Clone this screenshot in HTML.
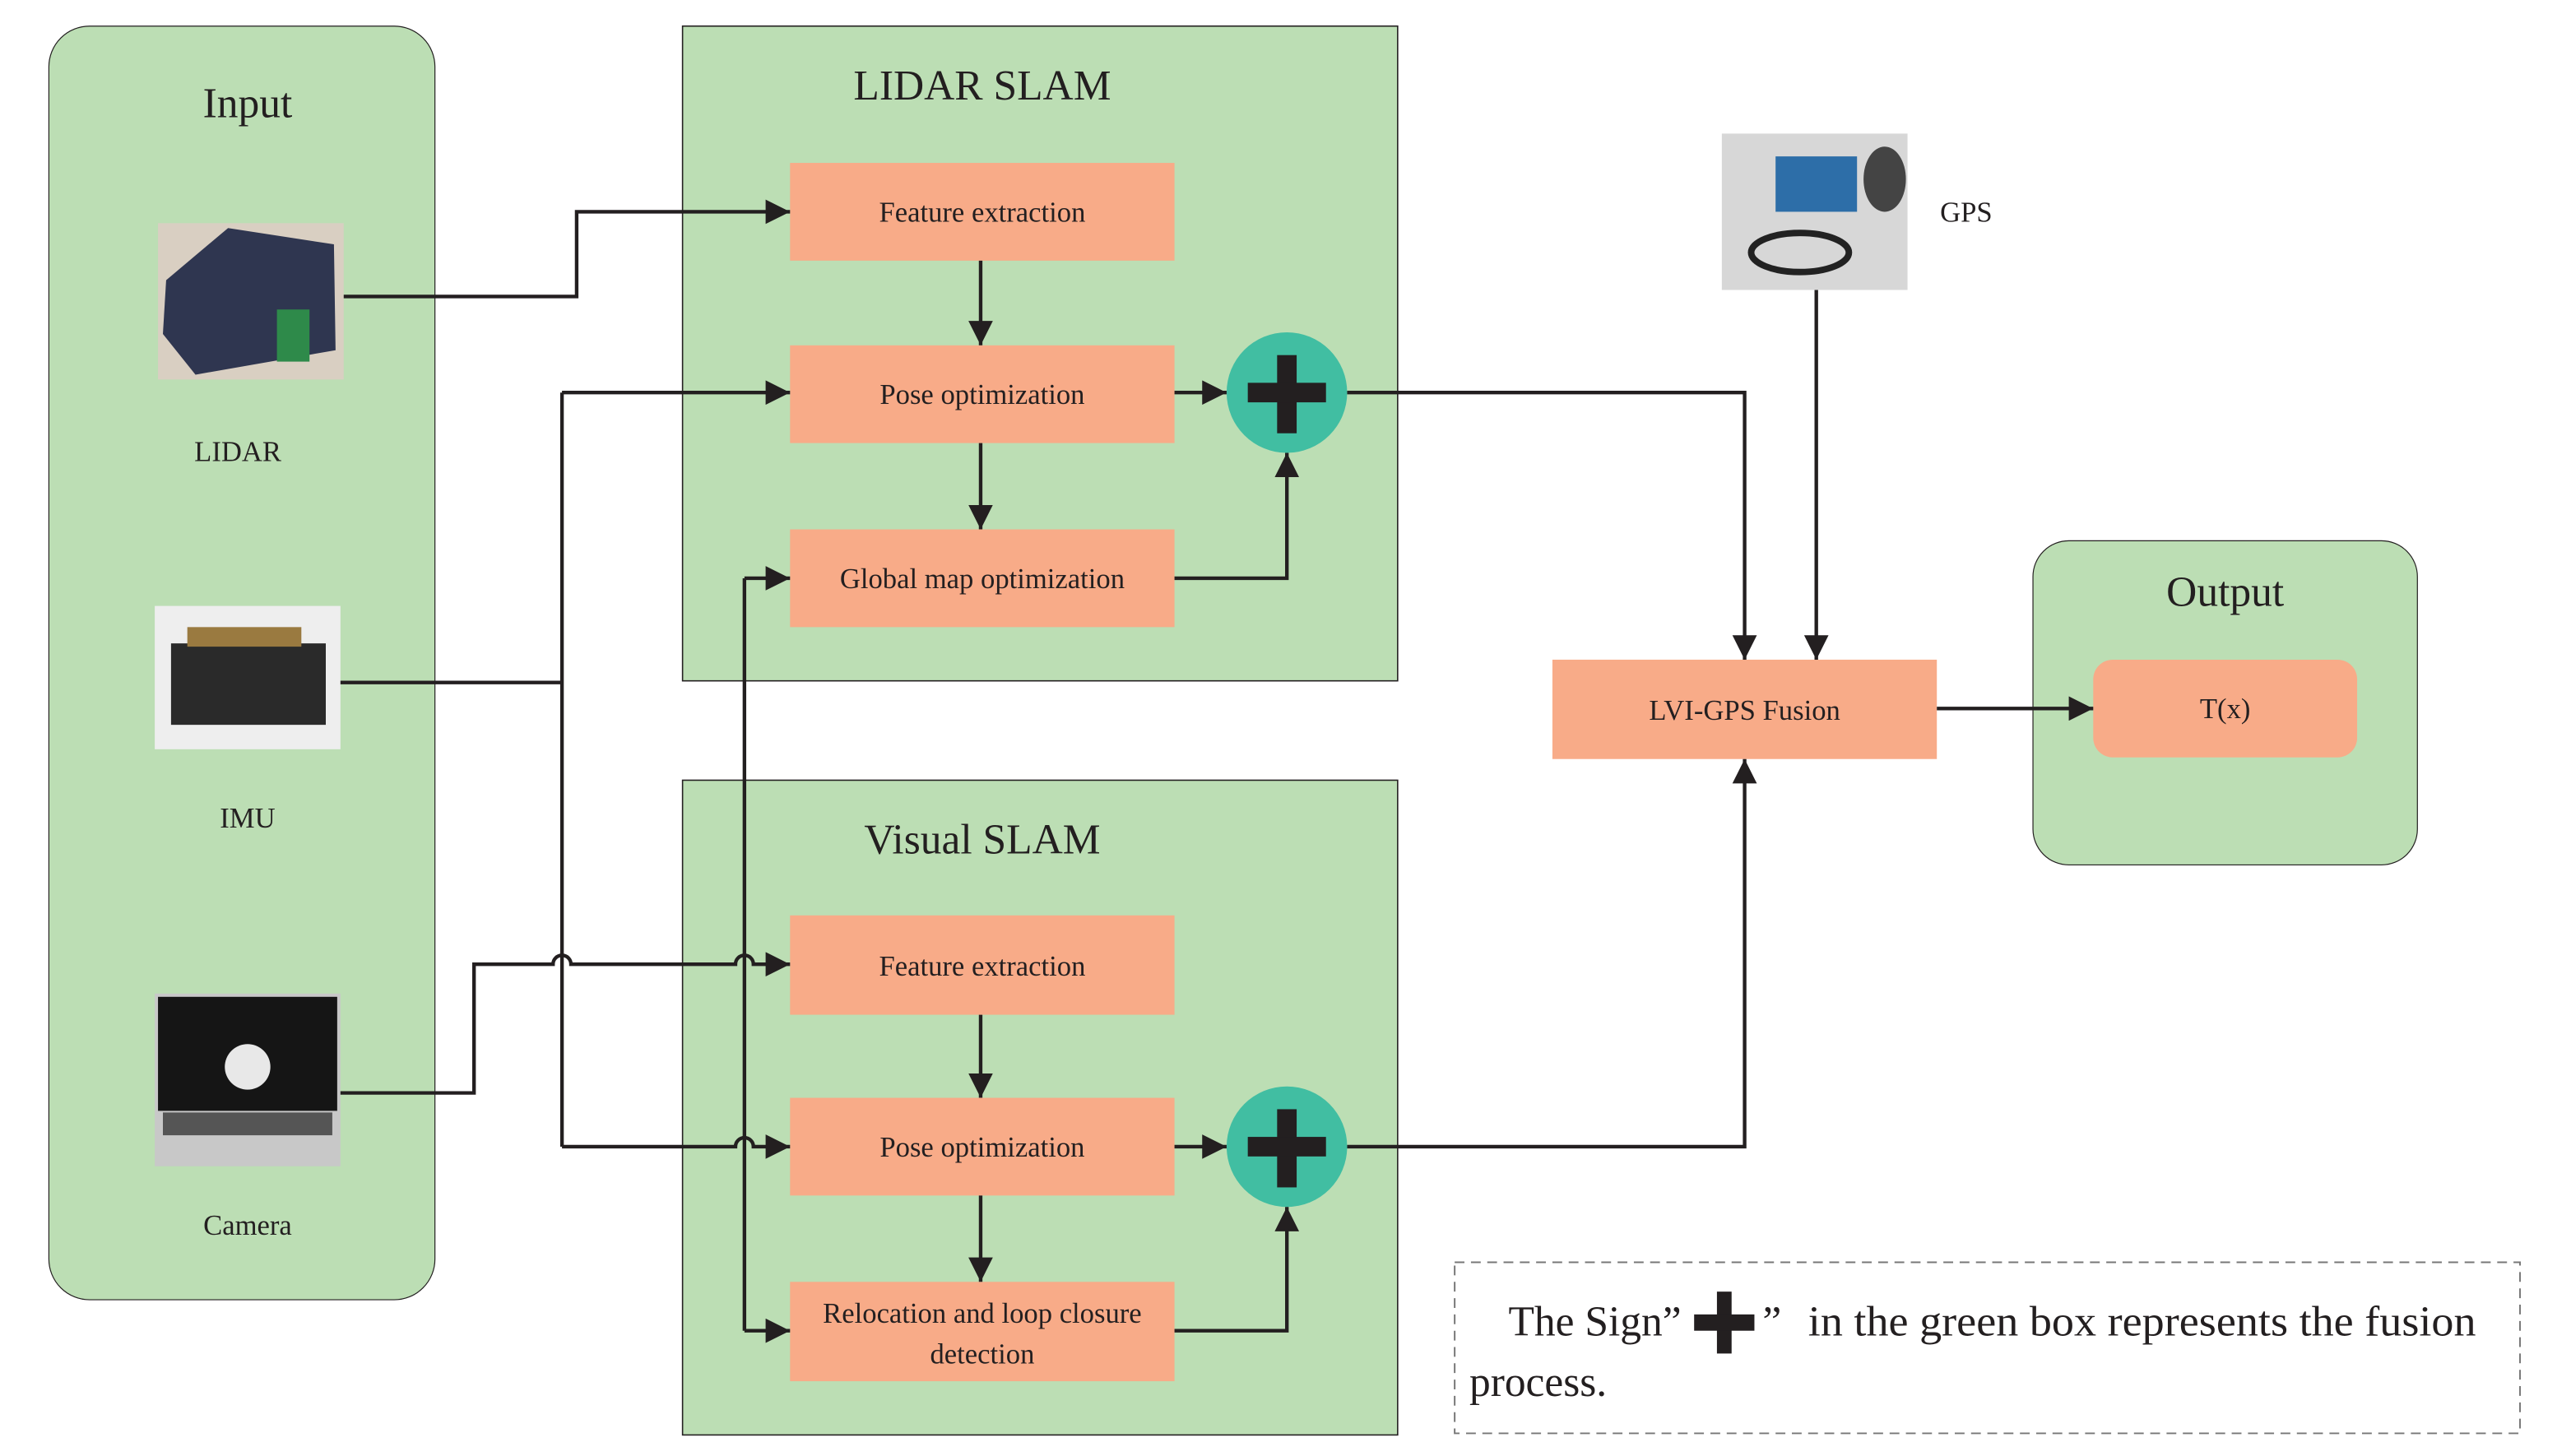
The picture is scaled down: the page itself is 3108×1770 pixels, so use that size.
<!DOCTYPE html>
<html><head><meta charset="utf-8"><style>
html,body{margin:0;padding:0;background:#fff;}
svg{display:block;}
text{font-family:"Liberation Serif",serif;fill:#231f20;}
</style></head><body>
<svg width="3108" height="1770" viewBox="0 0 1569.7 893.9" xmlns="http://www.w3.org/2000/svg">
<defs>
<marker id="ar" viewBox="0 0 10 10" refX="10" refY="5" markerWidth="15" markerHeight="15" markerUnits="userSpaceOnUse" orient="auto"><path d="M0,0 L10,5 L0,10 z" fill="#231f20"/></marker>
</defs>
<!-- containers -->
<rect x="30" y="16" width="237" height="782" rx="25" fill="#bcdeb4" stroke="#231f20" stroke-width="0.6"/>
<rect x="419" y="16" width="439" height="402" fill="#bcdeb4" stroke="#231f20" stroke-width="0.8"/>
<rect x="419" y="479" width="439" height="402" fill="#bcdeb4" stroke="#231f20" stroke-width="0.8"/>
<rect x="1248" y="332" width="236" height="199" rx="22" fill="#bcdeb4" stroke="#231f20" stroke-width="0.6"/>
<text x="152" y="72" font-size="26" text-anchor="middle">Input</text>
<text x="603" y="61" font-size="26" text-anchor="middle">LIDAR SLAM</text>
<text x="603" y="524" font-size="26" text-anchor="middle">Visual SLAM</text>
<text x="1366" y="372" font-size="26" text-anchor="middle">Output</text>
<!-- orange boxes -->
<g fill="#f8ab88">
<rect x="485" y="100" width="236" height="60"/>
<rect x="485" y="212" width="236" height="60"/>
<rect x="485" y="325" width="236" height="60"/>
<rect x="485" y="562" width="236" height="61"/>
<rect x="485" y="674" width="236" height="60"/>
<rect x="485" y="787" width="236" height="61"/>
<rect x="953" y="405" width="236" height="61"/>
<rect x="1285" y="405" width="162" height="60" rx="12"/>
</g>
<g font-size="17.5" text-anchor="middle">
<text x="603" y="136">Feature extraction</text>
<text x="603" y="248">Pose optimization</text>
<text x="603" y="361">Global map optimization</text>
<text x="603" y="599">Feature extraction</text>
<text x="603" y="710">Pose optimization</text>
<text x="603" y="812">Relocation and loop closure</text>
<text x="603" y="837">detection</text>
<text x="1071" y="442">LVI-GPS Fusion</text>
<text x="1366" y="441">T(x)</text>
</g>
<!-- images -->
<rect x="97" y="137" width="114" height="96" fill="#d9cfc2"/>
<path d="M102,172 L140,140 L205,150 L206,215 L120,230 L100,205 z" fill="#2f3650"/>
<rect x="170" y="190" width="20" height="32" fill="#2e8a4a"/>
<rect x="95" y="372" width="114" height="88" fill="#eeeeee"/>
<rect x="105" y="395" width="95" height="50" fill="#2a2a2a"/>
<rect x="115" y="385" width="70" height="12" fill="#9a7a40"/>
<rect x="95" y="610" width="114" height="106" fill="#c8c8c8"/>
<rect x="97" y="612" width="110" height="70" fill="#151515"/>
<circle cx="152" cy="655" r="14" fill="#e8e8e8"/>
<rect x="100" y="683" width="104" height="14" fill="#555"/>
<rect x="1057" y="82" width="114" height="96" fill="#d7d7d7"/>
<rect x="1090" y="96" width="50" height="34" fill="#2d6ea8"/>
<ellipse cx="1105" cy="155" rx="30" ry="12" fill="none" stroke="#222" stroke-width="4"/>
<ellipse cx="1157" cy="110" rx="13" ry="20" fill="#444"/>
<g font-size="17.5" text-anchor="middle">
<text x="146" y="283">LIDAR</text>
<text x="152" y="508">IMU</text>
<text x="152" y="758">Camera</text>
<text x="1207" y="136">GPS</text>
</g>
<!-- plus circles -->
<g>
<circle cx="790" cy="241" r="37" fill="#41bea2"/>
<rect x="784" y="218" width="12" height="48" fill="#231f20"/>
<rect x="766" y="235" width="48" height="12" fill="#231f20"/>
<circle cx="790" cy="704" r="37" fill="#41bea2"/>
<rect x="784" y="681" width="12" height="48" fill="#231f20"/>
<rect x="766" y="698" width="48" height="12" fill="#231f20"/>
</g>
<!-- connectors -->
<g fill="none" stroke="#231f20" stroke-width="2.2">
<path d="M211,182 H354 V130 H485" marker-end="url(#ar)"/>
<path d="M209,419 H345"/>
<path d="M345,241 V704"/>
<path d="M345,241 H485" marker-end="url(#ar)"/>
<path d="M345,704 H451.5 a5.5,5.5 0 0 1 11,0 H485" marker-end="url(#ar)"/>
<path d="M209,671 H291 V592 H339.5 a5.5,5.5 0 0 1 11,0 H451.5 a5.5,5.5 0 0 1 11,0 H485" marker-end="url(#ar)"/>
<path d="M457,355 V817"/>
<path d="M457,355 H485" marker-end="url(#ar)"/>
<path d="M457,817 H485" marker-end="url(#ar)"/>
<path d="M602,160 V212" marker-end="url(#ar)"/>
<path d="M602,272 V325" marker-end="url(#ar)"/>
<path d="M602,623 V674" marker-end="url(#ar)"/>
<path d="M602,734 V787" marker-end="url(#ar)"/>
<path d="M721,241 H753" marker-end="url(#ar)"/>
<path d="M721,704 H753" marker-end="url(#ar)"/>
<path d="M721,355 H790 V278" marker-end="url(#ar)"/>
<path d="M721,817 H790 V741" marker-end="url(#ar)"/>
<path d="M827,241 H1071 V405" marker-end="url(#ar)"/>
<path d="M827,704 H1071 V466" marker-end="url(#ar)"/>
<path d="M1115,178 V405" marker-end="url(#ar)"/>
<path d="M1189,435 H1285" marker-end="url(#ar)"/>
</g>
<!-- note -->
<rect x="893" y="775" width="654" height="105" fill="none" stroke="#777" stroke-width="1" stroke-dasharray="6,4"/>
<g font-size="26">
<text x="926" y="820">The Sign”</text>
<text x="1082" y="820">”</text>
<text x="1110" y="820" textLength="410" lengthAdjust="spacingAndGlyphs">in the green box represents the fusion</text>
<text x="902" y="857">process.</text>
</g>
<rect x="1054" y="793" width="9" height="38" fill="#231f20"/>
<rect x="1040" y="807" width="37" height="10" fill="#231f20"/>
</svg>
</body></html>
